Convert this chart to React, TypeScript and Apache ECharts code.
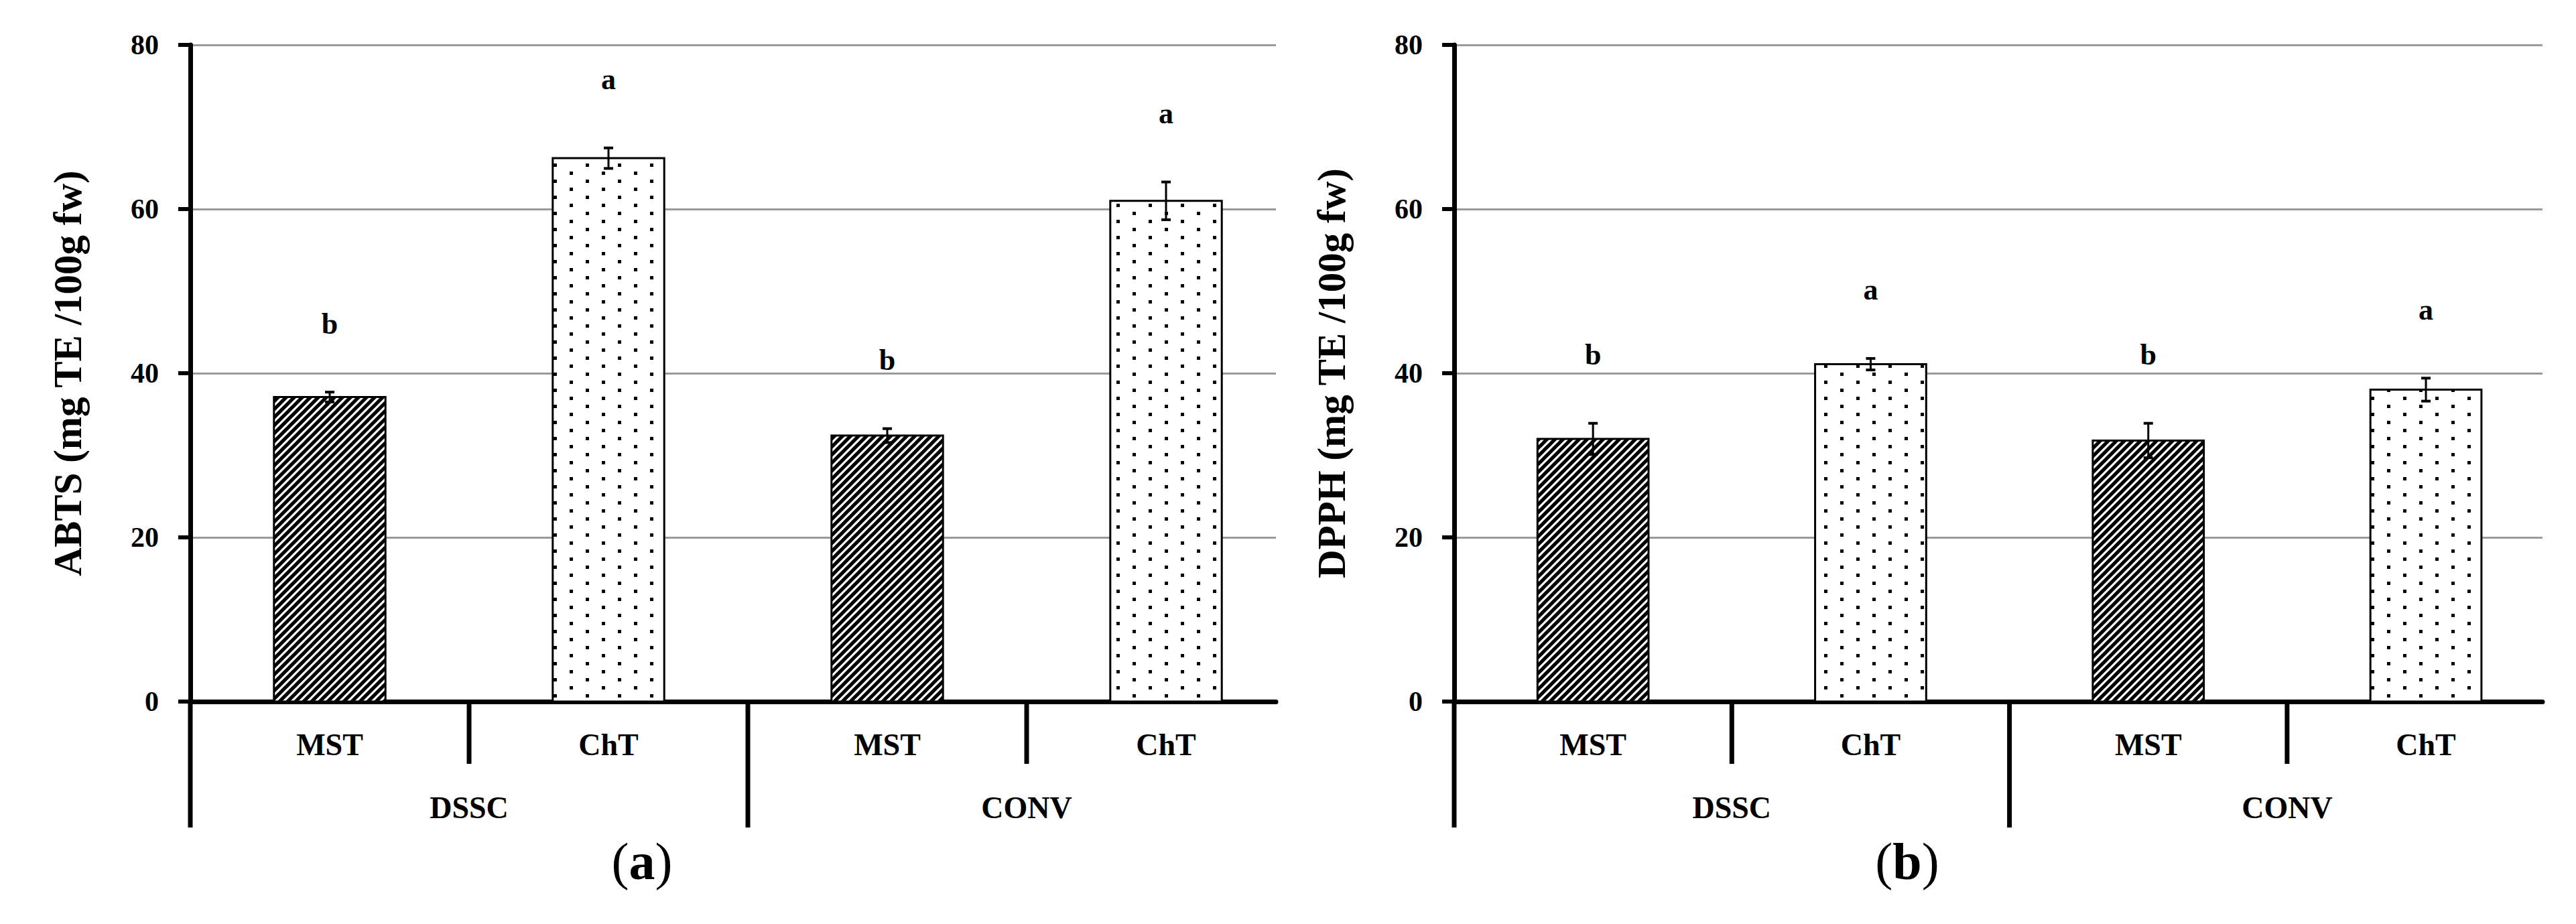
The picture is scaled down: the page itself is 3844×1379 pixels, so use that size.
import React, { useEffect, useRef } from "react";
import * as echarts from "echarts";

const categories = ["MST", "ChT", "MST", "ChT"];
const groups = ["DSSC", "CONV"];
const yTicks = [0, 20, 40, 60, 80];
const abtsValues = [37.1, 66.2, 32.4, 61.0];
const abtsErrors = [0.6, 1.25, 0.85, 2.3];
const abtsLetters = ["b", "a", "b", "a"];
const dpphValues = [32.0, 41.1, 31.8, 38.0];
const dpphErrors = [1.9, 0.7, 2.1, 1.4];
const dpphLetters = ["b", "a", "b", "a"];
const panelTags = ["a", "b"];
const yTitles = ["ABTS (mg TE /100g fw)", "DPPH (mg TE /100g fw)"];

const FONT = "'Liberation Serif', 'Times New Roman', serif";

function stripeCanvas(): HTMLCanvasElement {
  const c = document.createElement("canvas");
  c.width = 12;
  c.height = 12;
  const ctx = c.getContext("2d")!;
  ctx.fillStyle = "#fff";
  ctx.fillRect(0, 0, 12, 12);
  ctx.strokeStyle = "#000";
  ctx.lineWidth = 5.2;
  for (const k of [0, 12, 24]) {
    ctx.beginPath();
    ctx.moveTo(-3, k + 3);
    ctx.lineTo(k + 3, -3);
    ctx.stroke();
  }
  return c;
}

function dotCanvas(): HTMLCanvasElement {
  const c = document.createElement("canvas");
  c.width = 48;
  c.height = 24;
  const ctx = c.getContext("2d")!;
  ctx.fillStyle = "#fff";
  ctx.fillRect(0, 0, 48, 24);
  ctx.fillStyle = "#000";
  ctx.fillRect(10, 4, 5, 5);
  ctx.fillRect(34, 16, 5, 5);
  return c;
}

export default function App() {
  const ref = useRef<HTMLDivElement>(null);
  useEffect(() => {
    document.body.style.margin = "0";
    document.body.style.overflow = "hidden";
    const chart = echarts.init(ref.current!, undefined, { renderer: "svg" });
    const stripes = stripeCanvas();
    const dots = dotCanvas();
    const patternFor = (i: number) =>
      ({ image: i % 2 === 0 ? stripes : dots, repeat: "repeat" } as any);

    const grids = [
      { left: 284, top: 67, width: 1620, height: 980, unitPx: 416 },
      { left: 2170, top: 67, width: 1624, height: 980, unitPx: 414.3 },
    ];
    const panels = [
      { values: abtsValues, errors: abtsErrors, letters: abtsLetters },
      { values: dpphValues, errors: dpphErrors, letters: dpphLetters },
    ];

    const barSeries = (g: number) => {
      const p = panels[g];
      return {
        type: "custom",
        xAxisIndex: g,
        yAxisIndex: g,
        clip: false,
        silent: true,
        z: 3,
        encode: { x: 0, y: 1 },
        data: p.values.map((v, i) => [i + 0.5, v, p.errors[i], i]),
        renderItem: (params: any, api: any) => {
          const x = api.value(0);
          const v = api.value(1);
          const e = api.value(2);
          const i = api.value(3);
          const unit = api.size([1, 0])[0];
          const bw = unit * 0.4;
          const top = api.coord([x, v]);
          const base = api.coord([x, 0]);
          const et = api.coord([x, v + e]);
          const eb = api.coord([x, v - e]);
          const cx = top[0];
          return {
            type: "group",
            children: [
              {
                type: "rect",
                shape: { x: cx - bw / 2, y: top[1], width: bw, height: base[1] - top[1] },
                style: { fill: patternFor(i), stroke: "#000", lineWidth: 3 },
              },
              {
                type: "line",
                shape: { x1: cx, y1: eb[1], x2: cx, y2: et[1] },
                style: { stroke: "#000", lineWidth: 3 },
              },
              {
                type: "line",
                shape: { x1: cx - 7, y1: et[1], x2: cx + 7, y2: et[1] },
                style: { stroke: "#000", lineWidth: 4 },
              },
              {
                type: "line",
                shape: { x1: cx - 7, y1: eb[1], x2: cx + 7, y2: eb[1] },
                style: { stroke: "#000", lineWidth: 4 },
              },
              {
                type: "text",
                style: {
                  text: p.letters[i],
                  x: cx,
                  y: et[1] - 102,
                  align: "center",
                  verticalAlign: "middle",
                  fontSize: 44,
                  fontWeight: "bold",
                  fontFamily: FONT,
                  fill: "#000",
                },
              },
            ],
          };
        },
      };
    };

    const decoSeries = (g: number) => ({
      type: "custom",
      xAxisIndex: g,
      yAxisIndex: g,
      clip: false,
      silent: true,
      z: 5,
      encode: { x: 0, y: 1 },
      data: categories.map((_, i) => [i + 0.5, 0, i]),
      renderItem: (params: any, api: any) => {
        const i = api.value(2);
        const x = api.value(0);
        const base = api.coord([x, 0]);
        const by = base[1];
        const children: any[] = [];
        const line = (xx: number, len: number) => ({
          type: "line",
          shape: { x1: xx, y1: by - 3, x2: xx, y2: by + len },
          style: { stroke: "#000", lineWidth: 7 },
        });
        children.push({
          type: "text",
          style: {
            text: categories[i],
            x: base[0],
            y: by + 64,
            align: "center",
            verticalAlign: "middle",
            fontSize: 46,
            fontWeight: "bold",
            fontFamily: FONT,
            fill: "#000",
          },
        });
        if (i === 0) children.push(line(api.coord([0, 0])[0], 188));
        if (i + 1 < categories.length) {
          const isLong = (i + 1) % 2 === 0;
          children.push(line(api.coord([i + 1, 0])[0], isLong ? 188 : 93));
        }
        if (i % 2 === 1) {
          children.push({
            type: "text",
            style: {
              text: groups[(i - 1) / 2],
              x: api.coord([i, 0])[0],
              y: by + 158,
              align: "center",
              verticalAlign: "middle",
              fontSize: 46,
              fontWeight: "bold",
              fontFamily: FONT,
              fill: "#000",
            },
          });
        }
        return { type: "group", children };
      },
    });

    const option: any = {
      animation: false,
      backgroundColor: "#fff",
      grid: grids.map((g) => ({
        left: g.left,
        top: g.top,
        width: g.width,
        height: g.height,
        containLabel: false,
      })),
      xAxis: grids.map((g, gi) => ({
        type: "value",
        gridIndex: gi,
        min: 0,
        max: g.width / g.unitPx,
        axisLine: { show: true, onZero: true, lineStyle: { color: "#000", width: 7 } },
        axisTick: { show: false },
        axisLabel: { show: false },
        splitLine: { show: false },
      })),
      yAxis: grids.map((g, gi) => ({
        type: "value",
        gridIndex: gi,
        min: yTicks[0],
        max: yTicks[yTicks.length - 1],
        interval: yTicks[1] - yTicks[0],
        name: yTitles[gi],
        nameLocation: "middle",
        nameGap: 154,
        nameTextStyle: {
          fontSize: 59,
          fontWeight: "bold",
          fontFamily: FONT,
          color: "#000",
        },
        axisLine: { show: true, lineStyle: { color: "#000", width: 7 } },
        axisTick: { show: true, inside: false, length: 18, lineStyle: { color: "#000", width: 6 } },
        axisLabel: {
          margin: 47,
          fontSize: 42,
          fontWeight: "bold",
          fontFamily: FONT,
          color: "#000",
        },
        splitLine: { show: true, lineStyle: { color: "#9a9a9a", width: 3 } },
      })),
      graphic: panelTags.map((t, gi) => ({
        type: "text",
        x: gi === 0 ? 958 : 2846,
        y: 1285,
        style: {
          text: "{p|(}{b|" + t + "}{p|)}",
          align: "center",
          verticalAlign: "middle",
          fill: "#000",
          rich: {
            p: { fontSize: 78, fontFamily: FONT, fontWeight: "normal", fill: "#000" },
            b: { fontSize: 78, fontFamily: FONT, fontWeight: "bold", fill: "#000" },
          },
        },
      })),
      series: [barSeries(0), barSeries(1), decoSeries(0), decoSeries(1)],
    };
    chart.setOption(option);
    return () => chart.dispose();
  }, []);
  return <div ref={ref} style={{ width: "3844px", height: "1379px" }} />;
}
